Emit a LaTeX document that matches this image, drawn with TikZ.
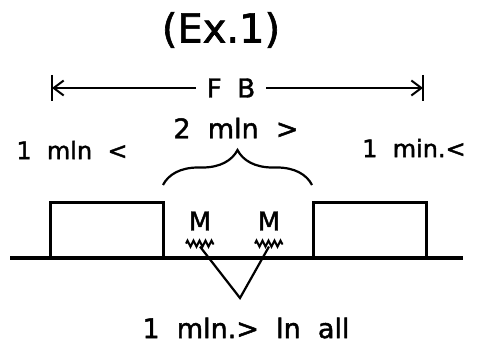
\documentclass[tikz,border=0pt]{standalone}
\usepackage{fontspec}
\setmainfont[WordSpace=2,FakeBold=1.6]{DejaVu Sans}
\usetikzlibrary{arrows.meta,positioning,decorations.pathreplacing,decorations.pathmorphing}

\begin{document}
\begin{tikzpicture}[x=1pt,y=-1pt,line width=2.2pt,
  txt/.style={inner sep=0pt,font=\fontsize{24}{26}\selectfont},
  block/.style={draw,line width=3pt,minimum width=113pt,minimum height=56pt,inner sep=0pt},
  wave/.style={decorate,decoration={zigzag,segment length=6pt,amplitude=3pt},line width=2pt},
  barb/.style={-{Straight Barb[length=10pt,width=15pt,line width=2pt]}}]

\useasboundingbox (0,0) rectangle (477,361);

\node[txt,font=\fontsize{40}{42}\selectfont] (title) at (221,30) {(Ex.1)};

% full band length
\coordinate (lb) at (52,88);
\coordinate (rb) at (423,88);
\node[txt,font=\fontsize{26}{28}\selectfont,inner xsep=10pt] (fb) at (231,88) {F\hspace{0.6em}B};
\draw[barb] (fb.west) -- (lb);
\draw[barb] (fb.east) -- (rb);
\draw ([yshift=13pt]lb) -- ([yshift=-13pt]lb);
\draw ([yshift=13pt]rb) -- ([yshift=-13pt]rb);

\node[txt] (lt) at (72,150) {1 mln <};
\node[txt,font=\fontsize{27}{29}\selectfont] (mid) at (236,128) {2 mln >};
\node[txt] (rt) at (414,148) {1 min.<};

% blocks on the ground
\coordinate (g1) at (10,258);
\coordinate (g2) at (463,258);
\node[block] (lbox) at (106.5,230) {};
\node[block] (rbox) at (369.5,230) {};
\draw[line width=3.6pt] (g1) -- (g2);

\coordinate (bl) at (163,185);
\coordinate (br) at (312,185);
\draw[decorate,decoration={brace,amplitude=35pt,raise=0pt}] (bl) -- (br);

\node[txt,font=\fontsize{26}{28}\selectfont] (m1) at (200,221) {M};
\node[txt,font=\fontsize{26}{28}\selectfont] (m2) at (269,221) {M};
\draw[wave] ([xshift=-14pt,yshift=-12pt]m1.south) -- ([xshift=14pt,yshift=-12pt]m1.south);
\draw[wave] ([xshift=-14pt,yshift=-12pt]m2.south) -- ([xshift=14pt,yshift=-12pt]m2.south);
\coordinate (z1) at ([yshift=-15pt]m1.south);
\coordinate (z2) at ([yshift=-15pt]m2.south);
\coordinate (apex) at (240,298);
\draw (z1) -- (apex) -- (z2);

\node[txt,font=\fontsize{27}{29}\selectfont] (all) at (246,328) {1 mln.> ln all};
\end{tikzpicture}
\end{document}
